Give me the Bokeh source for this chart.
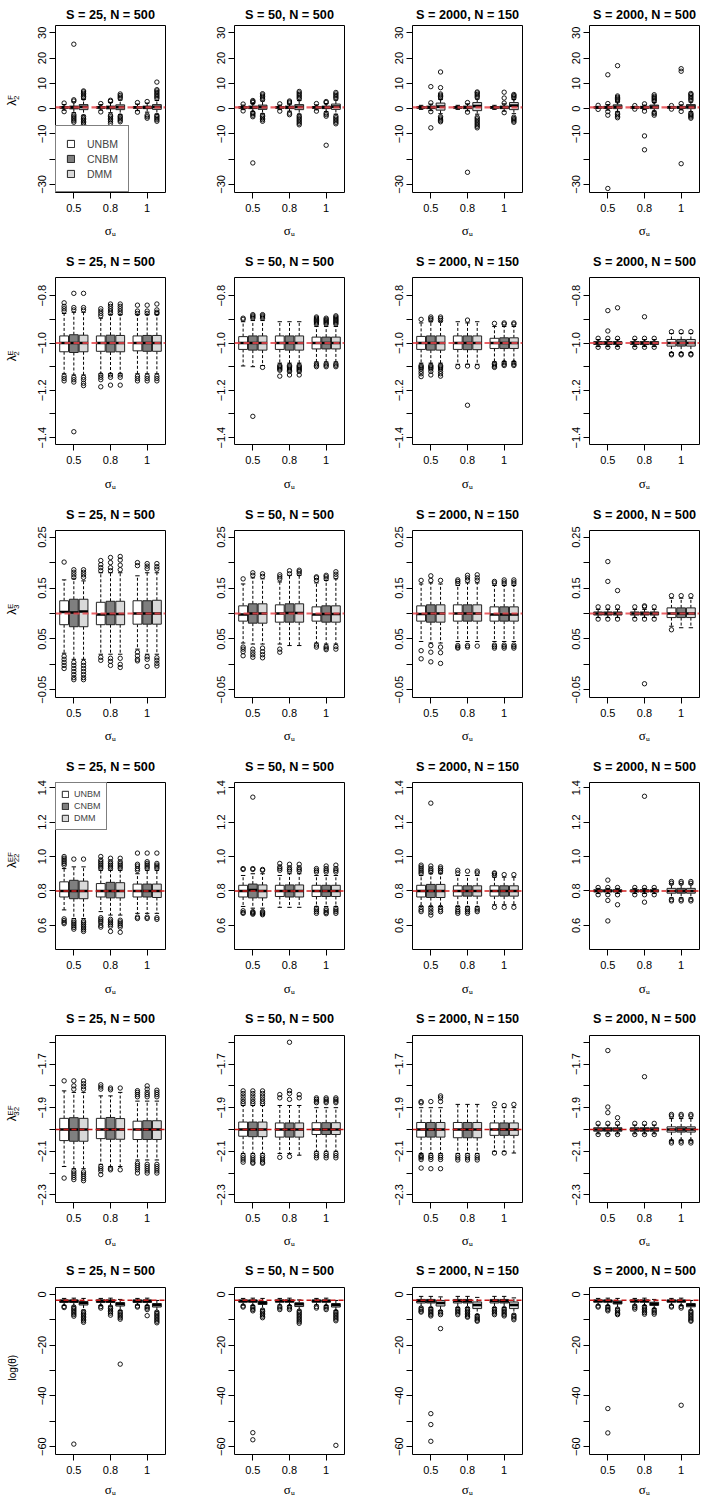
import math
from bokeh.plotting import figure
from bokeh.layouts import gridplot
from bokeh.models import (Span, Legend, LegendItem, FixedTicker, Range1d)
from bokeh.core.properties import value
from bokeh.embed import file_html
from bokeh.resources import INLINE

# ---------------- shared categories ----------------
panel_titles = ["S = 25, N = 500", "S = 50, N = 500", "S = 2000, N = 150", "S = 2000, N = 500"]
sigma_u_labels = ["0.5", "0.8", "1"]
method_names = ["UNBM", "CNBM", "DMM"]
method_fills = ["#ffffff", "#7f7f7f", "#d9d9d9"]
x_axis_label = "\u03c3\u1d64"

# Box order inside every panel: UNBM, CNBM, DMM at sigma_u 0.5, then 0.8, then 1.
# Each statistic: 4 panels (columns) x 9 boxes.

# ---------------- row 1: lambda_2^F ----------------
lam2F_true = 0.5
lam2F_ylim = (-33.2, 32.9)
lam2F_ticks = [-30, -20, -10, 0, 10, 20, 30]
lam2F_ticklabels = ["\u221230", "", "\u221210", "0", "10", "20", "30"]
lam2F_lo = [[-0.6, -1.6, -2.6, -0.6, -1.6, -2.4, -0.8, -1.4, -2.2],
            [-0.4, -1.2, -2.0, -0.4, -1.0, -2.2, -0.5, -1.2, -2.2],
            [-0.3, -0.8, -2.0, -0.3, -0.9, -2.2, -0.3, -1.0, -2.0],
            [0.1, -0.6, -1.2, 0.1, -0.4, -1.0, 0.1, -0.5, -1.2]]
lam2F_q1 = [[0.2, -0.1, -0.4, 0.2, -0.1, -0.4, 0.2, 0.0, -0.3],
            [0.2, 0.0, -0.3, 0.2, 0.0, -0.4, 0.2, 0.0, -0.3],
            [0.2, 0.0, -0.6, 0.2, 0.0, -0.8, 0.2, 0.0, -0.4],
            [0.35, 0.1, 0.0, 0.35, 0.1, 0.0, 0.35, 0.1, 0.0]]
lam2F_med = [[0.5, 0.5, 0.7, 0.5, 0.5, 0.6, 0.5, 0.5, 0.7],
             [0.5, 0.5, 0.6, 0.5, 0.5, 0.7, 0.5, 0.5, 0.8],
             [0.5, 0.5, 0.8, 0.5, 0.5, 1.0, 0.5, 0.5, 1.2],
             [0.5, 0.5, 0.7, 0.5, 0.5, 0.7, 0.5, 0.5, 0.8]]
lam2F_q3 = [[0.8, 1.0, 1.6, 0.8, 1.0, 1.5, 0.8, 1.0, 1.6],
            [0.8, 1.0, 1.4, 0.8, 1.0, 1.6, 0.8, 1.0, 1.8],
            [0.8, 1.0, 2.2, 0.8, 1.0, 2.4, 0.8, 1.0, 2.4],
            [0.65, 0.9, 1.5, 0.65, 0.9, 1.4, 0.65, 0.9, 1.6]]
lam2F_hi = [[1.6, 2.6, 3.6, 1.6, 2.4, 3.4, 1.8, 2.2, 3.2],
            [1.4, 2.0, 3.0, 1.4, 1.8, 3.2, 1.5, 2.0, 3.4],
            [1.3, 1.8, 3.6, 1.3, 1.9, 3.8, 1.3, 1.9, 3.6],
            [0.9, 1.6, 2.6, 0.9, 1.4, 2.4, 0.9, 1.5, 2.6]]
lam2F_out = [
    [[-1.2, 2.2],
     [-5.4, -4.8, -4.2, -3.6, -3.0, -2.4, 3.0, 3.5, 25.5],
     [-6.2, -5.6, -5.0, -4.4, -3.8, -3.2, 4.2, 4.8, 5.4, 6.0, 6.6, 7.0],
     [-1.3, 2.0],
     [-5.8, -5.0, -4.4, -3.8, -3.2, -2.6, 2.9, 3.3],
     [-5.2, -4.6, -4.0, -3.4, -2.9, 4.0, 4.6, 5.2, 5.8, -29.5],
     [-1.4, 2.4],
     [-3.8, -3.2, -2.6, 2.8],
     [-5.0, -4.4, -3.8, -3.2, -2.7, 4.0, 4.6, 5.2, 5.8, 6.4, 7.0, 7.5, 10.5]],
    [[-0.9, 1.8],
     [-3.2, -2.6, -2.0, -1.6, 2.4, 2.8, 3.2, -21.5],
     [-5.0, -4.4, -3.8, -3.2, -2.6, 3.6, 4.2, 4.8, 5.4, 5.9],
     [-1.0, 1.9],
     [-2.4, -1.8, 2.2, 2.6, 3.0],
     [-6.4, -5.8, -5.2, -4.6, -4.0, -3.4, -2.8, 3.8, 4.4, 5.0, 5.6, 6.2, 6.8],
     [-1.0, 2.0],
     [-3.0, -2.4, -1.8, 2.4, 2.8, -14.5],
     [-6.0, -5.4, -4.8, -4.2, -3.6, -3.0, 4.0, 4.6, 5.2, 5.8, 6.4]],
    [[],
     [-1.2, 2.3, 8.7, -7.6],
     [-5.2, -4.7, -4.2, -3.7, -3.2, 4.2, 4.8, 5.3, 5.8, 8.3, 14.5],
     [],
     [-1.4, 2.4, -25.2],
     [-7.6, -7.0, -6.4, -5.8, -5.2, -4.6, -4.0, -3.4, 4.4, 5.0, 5.6, 6.2, 6.6],
     [],
     [-1.6, 2.2, 4.2, 6.5],
     [-5.4, -4.9, -4.4, -3.9, -3.4, 4.2, 4.7, 5.2, 5.6]],
    [[-0.3, 1.3],
     [-2.6, -1.2, 2.0, 13.4, -31.6],
     [-3.6, -3.0, -2.4, -1.8, 3.0, 3.5, 4.0, 4.5, 5.0, 17.0],
     [-0.2, 1.2],
     [-1.0, 1.9, -10.8, -16.3],
     [-2.6, -2.0, -1.5, 2.9, 3.4, 3.9, 4.4, 4.9, 5.5],
     [-0.2, 1.2],
     [-1.1, 2.0, 14.8, 15.8, -21.8],
     [-3.8, -3.3, -2.8, -2.3, -1.8, 3.2, 3.8, 4.4, 5.0, 5.6, 6.0]]]

# ---------------- row 2: lambda_2^E ----------------
lam2E_true = -1.0
lam2E_ylim = (-1.429, -0.723)
lam2E_ticks = [-1.4, -1.3, -1.2, -1.1, -1.0, -0.9, -0.8]
lam2E_ticklabels = ["\u22121.4", "", "\u22121.2", "", "\u22121.0", "", "\u22120.8"]
lam2E_lo = [[-1.13, -1.135, -1.135, -1.13, -1.13, -1.13, -1.13, -1.13, -1.13],
            [-1.097, -1.1, -1.095, -1.085, -1.085, -1.085, -1.08, -1.08, -1.08],
            [-1.085, -1.085, -1.085, -1.09, -1.09, -1.09, -1.08, -1.078, -1.078],
            [-1.015, -1.015, -1.015, -1.015, -1.015, -1.015, -1.04, -1.04, -1.04]]
lam2E_q1 = [[-1.037, -1.04, -1.037, -1.035, -1.038, -1.037, -1.033, -1.035, -1.035],
            [-1.027, -1.03, -1.03, -1.027, -1.03, -1.03, -1.025, -1.025, -1.025],
            [-1.027, -1.03, -1.03, -1.027, -1.028, -1.028, -1.023, -1.023, -1.023],
            [-1.006, -1.006, -1.006, -1.006, -1.006, -1.006, -1.013, -1.013, -1.013]]
lam2E_med = [[-1.0, -1.0, -1.0, -1.0, -1.0, -1.0, -1.0, -1.0, -1.0],
             [-1.0, -1.0, -1.0, -1.0, -1.0, -1.0, -1.0, -1.0, -1.0],
             [-1.0, -1.0, -1.0, -1.0, -1.0, -1.0, -1.0, -1.0, -1.0],
             [-1.0, -1.0, -1.0, -1.0, -1.0, -1.0, -1.0, -1.0, -1.0]]
lam2E_q3 = [[-0.97, -0.965, -0.967, -0.97, -0.967, -0.968, -0.97, -0.968, -0.968],
            [-0.973, -0.97, -0.97, -0.97, -0.97, -0.97, -0.975, -0.975, -0.975],
            [-0.972, -0.97, -0.97, -0.97, -0.97, -0.97, -0.98, -0.978, -0.978],
            [-0.994, -0.994, -0.994, -0.994, -0.994, -0.994, -0.985, -0.985, -0.985]]
lam2E_hi = [[-0.875, -0.87, -0.87, -0.895, -0.88, -0.88, -0.88, -0.88, -0.88],
            [-0.91, -0.905, -0.905, -0.91, -0.91, -0.91, -0.93, -0.93, -0.93],
            [-0.915, -0.91, -0.91, -0.91, -0.915, -0.91, -0.93, -0.93, -0.93],
            [-0.985, -0.985, -0.985, -0.985, -0.985, -0.985, -0.96, -0.96, -0.96]]
lam2E_out = [
    [[-0.83, -0.845, -0.855, -0.865, -1.14, -1.15, -1.16],
     [-0.79, -0.85, -0.86, -1.145, -1.155, -1.165, -1.375],
     [-0.79, -0.85, -0.86, -1.145, -1.155, -1.17, -1.18],
     [-0.855, -0.865, -0.875, -0.885, -1.135, -1.145, -1.155, -1.185],
     [-0.835, -0.845, -0.855, -0.865, -0.875, -1.135, -1.145, -1.178],
     [-0.835, -0.845, -0.855, -0.865, -0.875, -1.135, -1.145, -1.178],
     [-0.84, -0.865, -0.875, -1.14, -1.15, -1.16],
     [-0.84, -0.865, -0.875, -1.14, -1.15, -1.16],
     [-0.835, -0.86, -0.87, -0.875, -1.14, -1.15, -1.16]],
    [[-0.895, -0.9],
     [-0.88, -0.885, -0.89, -0.895, -1.31],
     [-0.88, -0.885, -0.89, -0.895, -1.103],
     [-1.095, -1.1, -1.105, -1.11, -1.115, -1.14],
     [-1.095, -1.1, -1.105, -1.11, -1.115, -1.12, -1.135],
     [-1.095, -1.1, -1.105, -1.11, -1.115, -1.12, -1.135],
     [-0.89, -0.895, -0.9, -0.905, -0.91, -0.915, -0.92, -1.088, -1.094, -1.1],
     [-0.895, -0.9, -0.905, -0.91, -0.915, -0.92, -1.088, -1.094, -1.1],
     [-0.885, -0.89, -0.895, -0.9, -0.905, -0.91, -0.915, -0.92, -1.088, -1.094, -1.1]],
    [[-0.9, -1.095, -1.1, -1.105, -1.11, -1.12, -1.13, -1.142],
     [-0.89, -0.897, -0.903, -1.095, -1.1, -1.105, -1.11, -1.12, -1.135],
     [-0.89, -0.897, -0.905, -1.095, -1.1, -1.105, -1.11, -1.12, -1.13, -1.14],
     [-1.1],
     [-0.903, -1.097, -1.263],
     [-1.1],
     [-0.917, -1.086, -1.092, -1.098, -1.103],
     [-0.915, -0.92, -1.083, -1.09, -1.095],
     [-0.915, -0.92, -1.083, -1.09, -1.095]],
    [[-0.98, -1.018],
     [-0.863, -0.949, -0.98, -1.018],
     [-0.851, -0.98, -1.018],
     [-0.98, -1.018],
     [-0.889, -0.98, -1.018],
     [-0.98, -1.018],
     [-0.952, -1.046, -1.05],
     [-0.952, -1.046, -1.05],
     [-0.952, -1.046, -1.05]]]

# ---------------- row 3: lambda_3^E ----------------
lam3E_true = 0.10
lam3E_ylim = (-0.065, 0.263)
lam3E_ticks = [-0.05, 0.0, 0.05, 0.1, 0.15, 0.2, 0.25]
lam3E_ticklabels = ["\u22120.05", "", "0.05", "", "0.15", "", "0.25"]
lam3E_lo = [[0.022, 0.01, 0.01, 0.02, 0.02, 0.02, 0.03, 0.02, 0.02],
            [0.042, 0.04, 0.04, 0.04, 0.037, 0.037, 0.042, 0.04, 0.04],
            [0.045, 0.042, 0.042, 0.045, 0.045, 0.045, 0.045, 0.045, 0.045],
            [0.092, 0.092, 0.092, 0.092, 0.092, 0.092, 0.075, 0.072, 0.072]]
lam3E_q1 = [[0.078, 0.074, 0.074, 0.078, 0.078, 0.078, 0.079, 0.079, 0.079],
            [0.085, 0.081, 0.081, 0.083, 0.083, 0.083, 0.085, 0.083, 0.083],
            [0.085, 0.083, 0.083, 0.085, 0.085, 0.085, 0.085, 0.085, 0.085],
            [0.097, 0.097, 0.097, 0.097, 0.097, 0.097, 0.092, 0.092, 0.092]]
lam3E_med = [[0.103, 0.102, 0.104, 0.098, 0.099, 0.099, 0.1, 0.1, 0.1],
             [0.098, 0.1, 0.1, 0.1, 0.101, 0.101, 0.098, 0.099, 0.099],
             [0.099, 0.1, 0.1, 0.1, 0.1, 0.1, 0.098, 0.098, 0.098],
             [0.1, 0.1, 0.1, 0.1, 0.1, 0.1, 0.1, 0.1, 0.1]]
lam3E_q3 = [[0.125, 0.128, 0.128, 0.122, 0.124, 0.124, 0.125, 0.125, 0.126],
            [0.115, 0.119, 0.119, 0.117, 0.119, 0.119, 0.113, 0.115, 0.115],
            [0.115, 0.117, 0.117, 0.117, 0.117, 0.117, 0.113, 0.113, 0.113],
            [0.103, 0.103, 0.103, 0.103, 0.103, 0.103, 0.111, 0.111, 0.111]]
lam3E_hi = [[0.166, 0.168, 0.164, 0.18, 0.18, 0.18, 0.174, 0.18, 0.18],
            [0.158, 0.17, 0.168, 0.162, 0.175, 0.175, 0.16, 0.165, 0.168],
            [0.158, 0.16, 0.158, 0.155, 0.16, 0.16, 0.155, 0.155, 0.155],
            [0.108, 0.108, 0.108, 0.108, 0.108, 0.108, 0.13, 0.13, 0.13]]
lam3E_out = [
    [[0.201, 0.016, 0.01, 0.004, -0.002, -0.008],
     [0.171, 0.176, 0.181, 0.186, 0.004, -0.002, -0.008, -0.014, -0.02, -0.026, -0.03],
     [0.171, 0.176, 0.181, 0.186, 0.004, -0.002, -0.008, -0.014, -0.02, -0.026, -0.03],
     [0.184, 0.19, 0.196, 0.204, 0.014, 0.008],
     [0.184, 0.19, 0.2, 0.21, 0.012, 0.006, -0.002],
     [0.186, 0.195, 0.205, 0.212, 0.012, 0.0, -0.006],
     [0.194, 0.2, 0.024, 0.017, 0.01, 0.007],
     [0.188, 0.193, 0.198, 0.015, 0.01, -0.004],
     [0.187, 0.192, 0.198, 0.013, 0.008, 0.002, -0.003]],
    [[0.168, 0.034, 0.03, 0.025, 0.017],
     [0.175, 0.18, 0.03, 0.024, 0.019, 0.014],
     [0.173, 0.178, 0.032, 0.025, 0.019, 0.013],
     [0.168, 0.172, 0.176, 0.03, 0.024],
     [0.178, 0.184],
     [0.178, 0.182, 0.185],
     [0.165, 0.17, 0.172, 0.038, 0.034],
     [0.168, 0.172, 0.175, 0.035, 0.032, 0.029],
     [0.172, 0.177, 0.182, 0.035, 0.03]],
    [[0.165, 0.027, 0.011],
     [0.165, 0.174, 0.037, 0.024, 0.005],
     [0.165, 0.034, 0.023, 0.002],
     [0.159, 0.163, 0.166, 0.037, 0.034, 0.032],
     [0.165, 0.17, 0.175, 0.037, 0.034],
     [0.165, 0.17, 0.176, 0.036],
     [0.16, 0.163, 0.038, 0.035, 0.032],
     [0.158, 0.162, 0.166, 0.038, 0.035, 0.032],
     [0.158, 0.162, 0.166, 0.038, 0.035, 0.032]],
    [[0.113, 0.089],
     [0.113, 0.089, 0.163, 0.202],
     [0.113, 0.089, 0.145],
     [0.113, 0.089],
     [0.115, 0.113, 0.089, -0.038],
     [0.113, 0.089],
     [0.135, 0.068],
     [0.135],
     [0.135]]]

# ---------------- row 4: lambda_22^EF ----------------
lam22EF_true = 0.8
lam22EF_ylim = (0.46, 1.43)
lam22EF_ticks = [0.6, 0.8, 1.0, 1.2, 1.4]
lam22EF_ticklabels = ["0.6", "0.8", "1.0", "1.2", "1.4"]
lam22EF_lo = [[0.69, 0.64, 0.64, 0.68, 0.66, 0.66, 0.67, 0.67, 0.67],
              [0.71, 0.7, 0.7, 0.705, 0.705, 0.705, 0.71, 0.71, 0.71],
              [0.71, 0.71, 0.71, 0.71, 0.71, 0.71, 0.72, 0.72, 0.72],
              [0.785, 0.785, 0.785, 0.785, 0.785, 0.785, 0.76, 0.76, 0.76]]
lam22EF_q1 = [[0.765, 0.755, 0.755, 0.765, 0.76, 0.76, 0.765, 0.765, 0.762],
              [0.765, 0.76, 0.76, 0.768, 0.765, 0.765, 0.768, 0.768, 0.768],
              [0.765, 0.762, 0.762, 0.77, 0.77, 0.77, 0.77, 0.77, 0.77],
              [0.795, 0.795, 0.795, 0.795, 0.795, 0.795, 0.787, 0.787, 0.787]]
lam22EF_med = [[0.8, 0.8, 0.8, 0.8, 0.8, 0.8, 0.8, 0.8, 0.8],
               [0.8, 0.805, 0.8, 0.8, 0.8, 0.8, 0.8, 0.8, 0.8],
               [0.8, 0.8, 0.8, 0.8, 0.8, 0.8, 0.8, 0.8, 0.8],
               [0.8, 0.8, 0.8, 0.8, 0.8, 0.8, 0.8, 0.8, 0.8]]
lam22EF_q3 = [[0.853, 0.862, 0.857, 0.843, 0.85, 0.848, 0.84, 0.84, 0.84],
              [0.833, 0.84, 0.835, 0.833, 0.835, 0.835, 0.833, 0.833, 0.833],
              [0.833, 0.838, 0.838, 0.83, 0.83, 0.83, 0.83, 0.83, 0.83],
              [0.807, 0.807, 0.807, 0.807, 0.807, 0.807, 0.815, 0.815, 0.815]]
lam22EF_hi = [[0.93, 0.94, 0.94, 0.92, 0.92, 0.92, 0.9, 0.92, 0.92],
              [0.89, 0.9, 0.9, 0.89, 0.9, 0.9, 0.89, 0.89, 0.89],
              [0.89, 0.9, 0.9, 0.89, 0.89, 0.89, 0.88, 0.88, 0.88],
              [0.815, 0.815, 0.815, 0.815, 0.815, 0.815, 0.84, 0.84, 0.84]]
lam22EF_out = [
    [[0.95, 0.96, 0.97, 0.98, 0.99, 1.0, 0.638, 0.628, 0.618, 0.61],
     [0.985, 1.27, 0.628, 0.618, 0.608, 0.598, 0.588, 0.578],
     [0.985, 0.625, 0.615, 0.605, 0.595, 0.585, 0.575, 0.565],
     [0.93, 0.94, 0.95, 0.96, 0.97, 0.98, 1.0, 0.645, 0.635, 0.625, 0.615, 0.6, 0.59],
     [0.93, 0.94, 0.95, 0.96, 0.97, 0.99, 0.635, 0.625, 0.615, 0.605, 0.595, 0.565],
     [0.93, 0.94, 0.95, 0.96, 0.97, 0.99, 0.63, 0.62, 0.61, 0.6, 0.59, 0.56],
     [0.92, 0.93, 0.945, 0.955, 1.02, 0.648, 0.64],
     [0.93, 0.94, 0.95, 0.96, 0.97, 1.02, 0.648, 0.64],
     [0.93, 0.94, 0.95, 0.96, 1.02, 0.645, 0.635]],
    [[0.925, 0.93, 0.685, 0.675, 0.67],
     [0.925, 0.93, 1.345, 0.68, 0.675, 0.67, 0.665],
     [0.92, 0.925, 0.68, 0.674, 0.668, 0.662],
     [0.92, 0.93, 0.94, 0.96],
     [0.915, 0.925, 0.935, 0.955],
     [0.915, 0.925, 0.935, 0.955],
     [0.91, 0.92, 0.93, 0.7, 0.69, 0.68, 0.67],
     [0.91, 0.92, 0.93, 0.945, 0.695, 0.685, 0.675, 0.668],
     [0.91, 0.92, 0.93, 0.95, 0.7, 0.69, 0.68, 0.67]],
    [[0.9, 0.91, 0.92, 0.93, 0.94, 0.95, 0.705, 0.69, 0.68],
     [0.91, 0.92, 0.93, 0.945, 1.31, 0.705, 0.69, 0.675, 0.66],
     [0.91, 0.92, 0.93, 0.94, 0.705, 0.69, 0.68],
     [0.905, 0.92, 0.705, 0.69, 0.68, 0.67],
     [0.915, 0.7, 0.69, 0.68, 0.67],
     [0.905, 0.915, 0.7, 0.69, 0.68],
     [0.89, 0.9, 0.905, 0.705],
     [0.895, 0.705],
     [0.895, 0.705]],
    [[0.82, 0.778],
     [0.82, 0.863, 0.778, 0.745, 0.626],
     [0.82, 0.778, 0.72],
     [0.82, 0.778],
     [0.82, 0.778, 0.735, 1.35],
     [0.82, 0.778],
     [0.845, 0.855, 0.75, 0.742],
     [0.845, 0.855, 0.75, 0.742],
     [0.845, 0.855, 0.75, 0.742]]]

# ---------------- row 5: lambda_32^EF ----------------
lam32EF_true = -2.0
lam32EF_ylim = (-2.335, -1.569)
lam32EF_ticks = [-2.3, -2.2, -2.1, -2.0, -1.9, -1.8, -1.7, -1.6]
lam32EF_ticklabels = ["\u22122.3", "", "\u22122.1", "", "\u22121.9", "", "\u22121.7", ""]
lam32EF_lo = [[-2.17, -2.18, -2.18, -2.16, -2.17, -2.17, -2.14, -2.14, -2.14],
              [-2.11, -2.11, -2.11, -2.11, -2.11, -2.118, -2.1, -2.1, -2.1],
              [-2.11, -2.11, -2.11, -2.11, -2.11, -2.11, -2.1, -2.1, -2.108],
              [-2.02, -2.02, -2.02, -2.02, -2.02, -2.02, -2.05, -2.05, -2.05]]
lam32EF_q1 = [[-2.051, -2.054, -2.054, -2.042, -2.045, -2.045, -2.046, -2.046, -2.046],
              [-2.031, -2.033, -2.033, -2.035, -2.035, -2.035, -2.023, -2.023, -2.023],
              [-2.035, -2.035, -2.035, -2.038, -2.038, -2.038, -2.027, -2.027, -2.027],
              [-2.008, -2.008, -2.008, -2.008, -2.008, -2.008, -2.012, -2.012, -2.012]]
lam32EF_med = [[-2.0, -2.0, -2.0, -2.0, -2.0, -2.0, -2.0, -2.0, -2.0],
               [-2.0, -2.0, -2.0, -2.0, -2.0, -2.0, -2.0, -2.0, -2.0],
               [-2.0, -2.0, -2.0, -2.0, -2.0, -2.0, -2.0, -2.0, -2.0],
               [-2.0, -2.0, -2.0, -2.0, -2.0, -2.0, -2.0, -2.0, -2.0]]
lam32EF_q3 = [[-1.949, -1.946, -1.949, -1.949, -1.945, -1.95, -1.962, -1.96, -1.96],
              [-1.966, -1.966, -1.966, -1.97, -1.97, -1.97, -1.969, -1.969, -1.969],
              [-1.968, -1.968, -1.968, -1.968, -1.968, -1.968, -1.97, -1.97, -1.97],
              [-1.992, -1.992, -1.992, -1.992, -1.992, -1.992, -1.988, -1.988, -1.988]]
lam32EF_hi = [[-1.823, -1.83, -1.83, -1.846, -1.846, -1.83, -1.87, -1.87, -1.87],
              [-1.89, -1.89, -1.89, -1.89, -1.89, -1.89, -1.9, -1.9, -1.9],
              [-1.9, -1.9, -1.9, -1.885, -1.885, -1.885, -1.9, -1.9, -1.9],
              [-1.98, -1.98, -1.98, -1.98, -1.98, -1.98, -1.95, -1.95, -1.95]]
lam32EF_out = [
    [[-1.777, -2.223],
     [-1.777, -1.8, -1.815, -2.19, -2.2, -2.21, -2.22, -2.23],
     [-1.777, -1.79, -1.803, -1.815, -2.195, -2.205, -2.215, -2.225, -2.235],
     [-1.795, -1.805, -1.815, -2.17, -2.18, -2.19, -2.207],
     [-1.81, -1.818, -2.178, -2.185],
     [-1.81, -2.185],
     [-1.822, -1.83, -1.84, -1.85, -2.155, -2.165, -2.175, -2.185, -2.2],
     [-1.8, -1.815, -1.83, -1.84, -1.85, -2.16, -2.17, -2.18, -2.19, -2.2],
     [-1.82, -1.83, -1.84, -1.85, -2.16, -2.17, -2.18, -2.19, -2.2]],
    [[-1.823, -1.835, -1.847, -1.86, -1.872, -1.882, -2.12, -2.13, -2.14, -2.15],
     [-1.823, -1.835, -1.847, -1.86, -1.872, -1.882, -2.12, -2.13, -2.14, -2.15, -2.155],
     [-1.823, -1.835, -1.847, -1.86, -1.872, -1.882, -2.12, -2.13, -2.14, -2.15, -2.155],
     [-1.84, -1.855, -2.128],
     [-1.6, -1.822, -1.835, -1.862, -2.124],
     [-1.84, -1.855],
     [-1.855, -1.862, -1.87, -1.877, -2.11, -2.12, -2.13],
     [-1.855, -1.862, -1.87, -1.877, -2.11, -2.12, -2.13],
     [-1.855, -1.862, -1.87, -1.877, -2.11, -2.12, -2.13]],
    [[-1.872, -1.878, -2.118, -2.124, -2.13, -2.138, -2.177],
     [-1.872, -2.12, -2.128, -2.138, -2.18],
     [-1.846, -1.855, -1.872, -2.12, -2.128, -2.138, -2.18],
     [-2.12, -2.13, -2.14],
     [-2.12, -2.13, -2.14],
     [-2.12, -2.13, -2.14],
     [-1.882, -2.108],
     [-1.89, -2.108],
     [-1.885]],
    [[-1.972, -2.023],
     [-1.638, -1.897, -1.923, -1.972, -2.023],
     [-1.946, -1.972, -2.023],
     [-1.972, -2.023],
     [-1.758, -1.972, -2.023],
     [-1.972, -2.023],
     [-1.931, -1.938, -2.054, -2.062],
     [-1.931, -1.938, -2.054, -2.062],
     [-1.931, -1.938, -2.054, -2.062]]]

# ---------------- row 6: log(theta) ----------------
logtheta_true = -2.3
logtheta_ylim = (-63.1, 2.7)
logtheta_ticks = [-60, -50, -40, -30, -20, -10, 0]
logtheta_ticklabels = ["\u221260", "", "\u221240", "", "\u221220", "", "0"]
logtheta_lo = [[-4.4, -4.6, -6.2, -4.4, -4.6, -6.4, -4.2, -4.4, -6.6],
               [-4.2, -4.4, -5.8, -4.2, -4.4, -6.2, -4.2, -4.4, -6.4],
               [-5.0, -5.2, -6.4, -5.2, -5.2, -8.0, -5.2, -5.2, -7.8],
               [-4.2, -4.4, -5.4, -4.2, -4.4, -5.6, -4.2, -4.4, -6.2]]
logtheta_q1 = [[-3.2, -3.2, -4.2, -3.2, -3.2, -4.6, -3.2, -3.2, -5.0],
               [-3.1, -3.1, -4.0, -3.1, -3.1, -4.8, -3.1, -3.1, -5.0],
               [-3.4, -3.4, -4.6, -3.4, -3.4, -5.6, -3.4, -3.4, -5.6],
               [-3.1, -3.1, -3.8, -3.1, -3.1, -4.4, -3.1, -3.1, -4.9]]
logtheta_med = [[-2.6, -2.6, -3.4, -2.6, -2.6, -3.8, -2.6, -2.6, -4.2],
                [-2.6, -2.6, -3.3, -2.6, -2.6, -3.9, -2.6, -2.6, -4.2],
                [-2.6, -2.6, -3.4, -2.6, -2.6, -4.2, -2.6, -2.6, -4.2],
                [-2.6, -2.6, -3.2, -2.6, -2.6, -3.7, -2.6, -2.6, -4.2]]
logtheta_q3 = [[-2.2, -2.2, -2.8, -2.2, -2.2, -3.2, -2.2, -2.2, -3.6],
               [-2.2, -2.2, -2.8, -2.2, -2.2, -3.3, -2.2, -2.2, -3.6],
               [-2.0, -2.0, -2.4, -2.0, -2.0, -3.0, -2.0, -2.0, -3.0],
               [-2.2, -2.2, -2.6, -2.2, -2.2, -3.1, -2.2, -2.2, -3.6]]
logtheta_hi = [[-1.6, -1.5, -1.6, -1.6, -1.5, -2.0, -1.6, -1.5, -2.4],
               [-1.6, -1.5, -1.6, -1.6, -1.5, -2.2, -1.6, -1.5, -2.4],
               [-0.8, -0.8, -1.0, -0.8, -0.8, -1.2, -0.8, -0.8, -1.4],
               [-1.6, -1.5, -1.6, -1.6, -1.5, -2.0, -1.6, -1.5, -2.4]]
logtheta_out = [
    [[-4.8, -5.2],
     [-5.0, -5.6, -6.2, -6.8, -7.4, -8.0, -8.6, -59.0],
     [-6.8, -7.4, -8.0, -8.6, -9.2, -9.8, -10.4, -11.0],
     [-4.8, -5.4],
     [-5.0, -5.6, -6.2, -6.8, -7.4, -8.2],
     [-6.8, -7.4, -8.0, -8.6, -9.2, -9.8, -27.5],
     [-4.6, -5.0],
     [-4.8, -5.4, -6.0, -8.4],
     [-7.0, -7.6, -8.2, -8.8, -9.4, -10.0, -10.6, -11.2]],
    [[-4.6, -5.0],
     [-4.8, -5.4, -6.0, -6.5, -54.5, -57.3],
     [-6.2, -6.8, -7.4, -8.0, -8.6, -9.2],
     [-4.8, -5.4, -6.0],
     [-4.8, -5.4, -6.0],
     [-6.6, -7.2, -7.8, -8.4, -9.0, -9.6, -10.2, -10.8, -11.4],
     [-4.8, -5.4],
     [-4.8, -5.4, -6.0],
     [-6.8, -7.4, -8.0, -8.6, -9.2, -9.8, -10.4, -59.5]],
    [[-5.4, -6.0, -6.6, -7.0],
     [-5.6, -6.2, -6.8, -7.4, -8.0, -8.5, -47.0, -51.3, -57.9],
     [-6.8, -7.4, -8.0, -13.5],
     [-5.6, -6.2, -6.8, -7.4, -8.0],
     [-5.6, -6.2, -6.8, -7.4, -8.0, -8.6, -9.0],
     [-8.4, -9.0, -9.6, -10.2, -10.6],
     [-5.6, -6.2, -6.8, -7.4, -8.0],
     [-5.6, -6.2, -6.8, -7.4, -8.0, -8.5],
     [-8.2, -8.8, -9.4, -10.0]],
    [[-4.6, -5.0],
     [-4.8, -5.4, -6.0, -6.5, -45.0, -54.6],
     [-5.8, -6.4, -7.0, -7.6, -8.0],
     [-4.6, -5.2, -5.8],
     [-4.8, -5.4, -6.0, -6.6, -7.2, -7.8],
     [-6.0, -6.6, -7.2, -7.8],
     [-4.6, -5.0],
     [-4.8, -5.4, -43.7],
     [-6.6, -7.2, -7.8, -8.4, -9.0, -9.6, -10.2, -10.6]]]

ROWS = [
    dict(lo=lam2F_lo, q1=lam2F_q1, med=lam2F_med, q3=lam2F_q3, hi=lam2F_hi, out=lam2F_out,
         ylim=lam2F_ylim, ticks=lam2F_ticks, ticklabels=lam2F_ticklabels, truth=lam2F_true,
         ylab=("\u03bb", "2", "F")),
    dict(lo=lam2E_lo, q1=lam2E_q1, med=lam2E_med, q3=lam2E_q3, hi=lam2E_hi, out=lam2E_out,
         ylim=lam2E_ylim, ticks=lam2E_ticks, ticklabels=lam2E_ticklabels, truth=lam2E_true,
         ylab=("\u03bb", "2", "E")),
    dict(lo=lam3E_lo, q1=lam3E_q1, med=lam3E_med, q3=lam3E_q3, hi=lam3E_hi, out=lam3E_out,
         ylim=lam3E_ylim, ticks=lam3E_ticks, ticklabels=lam3E_ticklabels, truth=lam3E_true,
         ylab=("\u03bb", "3", "E")),
    dict(lo=lam22EF_lo, q1=lam22EF_q1, med=lam22EF_med, q3=lam22EF_q3, hi=lam22EF_hi, out=lam22EF_out,
         ylim=lam22EF_ylim, ticks=lam22EF_ticks, ticklabels=lam22EF_ticklabels, truth=lam22EF_true,
         ylab=("\u03bb", "22", "EF")),
    dict(lo=lam32EF_lo, q1=lam32EF_q1, med=lam32EF_med, q3=lam32EF_q3, hi=lam32EF_hi, out=lam32EF_out,
         ylim=lam32EF_ylim, ticks=lam32EF_ticks, ticklabels=lam32EF_ticklabels, truth=lam32EF_true,
         ylab=("\u03bb", "32", "EF")),
    dict(lo=logtheta_lo, q1=logtheta_q1, med=logtheta_med, q3=logtheta_q3, hi=logtheta_hi, out=logtheta_out,
         ylim=logtheta_ylim, ticks=logtheta_ticks, ticklabels=logtheta_ticklabels, truth=logtheta_true,
         ylab=("log(\u03b8)", "", "")),
]

# ---------------- layout / style ----------------
LAB_W = 22                                  # narrow strip holding the y-axis label of column 1
COL_W = [156, 178, 178, 174]
COL_BL = [33, 56, 56, 55]
FRAME_W, FRAME_H = 110, 167
ROW_H = [241, 253, 252, 253, 252, 249]
ROW_BT = [25, 36, 36, 36, 36, 36]
TITLE_STANDOFF = [8, 18, 18, 18, 19, 19]
XLAB_STANDOFF = [8, 9, 8, 9, 8, 5]
GROUP_POS = [1, 2, 3]
METHOD_OFF = [-0.265, 0.0, 0.265]
BOX_HALF = 0.12
STAPLE_HALF = 0.06
TRUE_STYLE = [("#e8474c", 0.85, 2.2, "6 3"), ("#e8474c", 0.85, 2.2, "6 3"), ("#e8474c", 0.85, 2.2, "6 3"),
              ("#d42020", 1.0, 1.4, "5 3"), ("#c81818", 1.0, 1.4, "5 3"), ("#c81818", 1.0, 1.4, "5 3")]
LEGENDS = {
    (0, 0): dict(location="bottom_left", glyph=9, font="10.5px", label_h=15, pad=10, standoff=12),
    (3, 0): dict(location="top_left", glyph=8, font="9px", label_h=12, pad=5, standoff=5),
}
FONT = "Liberation Sans"


def make_label_strip(r):
    """Narrow figure carrying the composite y-axis label (lambda with sub/superscript)."""
    h = ROW_H[r]
    bb = h - ROW_BT[r] - FRAME_H
    q = figure(width=LAB_W, height=h, x_range=Range1d(0, LAB_W), y_range=Range1d(0, h),
               output_backend="svg", toolbar_location=None,
               x_axis_location=None, y_axis_location=None,
               min_border_left=0, min_border_right=0, min_border_top=0, min_border_bottom=0)
    q.title.visible = False
    q.outline_line_color = None
    q.xgrid.visible = False
    q.ygrid.visible = False
    q.background_fill_color = "white"
    q.border_fill_color = "white"
    ymid = bb + FRAME_H / 2.0
    base, sub, sup = ROWS[r]["ylab"]
    if sub == "":
        q.text(x=[11.5], y=[ymid], text=[base], angle=math.pi / 2, text_align="center",
               text_baseline="middle", text_font=value(FONT), text_font_size=value("10px"),
               text_color="black")
    else:
        shift = 2.5 * (len(sub) - 1)
        q.text(x=[11.5], y=[ymid - 3 - shift], text=[base], angle=math.pi / 2, text_align="center",
               text_baseline="middle", text_font=value(FONT), text_font_size=value("12px"),
               text_color="black")
        q.text(x=[15.5], y=[ymid + 1 - shift], text=[sub], angle=math.pi / 2, text_align="left",
               text_baseline="middle", text_font=value(FONT), text_font_size=value("8px"),
               text_color="black")
        q.text(x=[10.0], y=[ymid + 1 - shift], text=[sup], angle=math.pi / 2, text_align="left",
               text_baseline="middle", text_font=value(FONT), text_font_size=value("8px"),
               text_color="black")
    return q


def make_panel(r, c):
    R = ROWS[r]
    lo, q1, med, q3, hi, out = (R[k][c] for k in ("lo", "q1", "med", "q3", "hi", "out"))
    y0, y1 = R["ylim"]
    w, h = COL_W[c], ROW_H[r]
    bl, bt = COL_BL[c], ROW_BT[r]
    p = figure(width=w, height=h, x_range=Range1d(0.5, 3.5), y_range=Range1d(y0, y1),
               output_backend="svg", toolbar_location=None,
               min_border_left=bl, min_border_right=w - bl - FRAME_W,
               min_border_top=bt, min_border_bottom=h - bt - FRAME_H)
    p.background_fill_color = "white"
    p.border_fill_color = "white"
    p.outline_line_color = "black"
    p.outline_line_width = 1
    p.outline_line_alpha = 1.0
    p.xgrid.visible = False
    p.ygrid.visible = False

    # title
    p.title.text = panel_titles[c]
    p.title.align = "center"
    p.title.text_font = FONT
    p.title.text_font_style = "bold"
    p.title.text_font_size = "12.7px"
    p.title.text_color = "black"
    p.title.standoff = TITLE_STANDOFF[r]

    xc = [g + off for g in GROUP_POS for off in METHOD_OFF]
    fills = [method_fills[i % 3] for i in range(9)]
    left = [x - BOX_HALF for x in xc]
    right = [x + BOX_HALF for x in xc]

    # whiskers (dashed)
    p.segment(x0=xc, x1=xc, y0=q3, y1=hi, line_color="black", line_width=1, line_dash="3 2")
    p.segment(x0=xc, x1=xc, y0=q1, y1=lo, line_color="black", line_width=1, line_dash="3 2")
    # staples
    p.segment(x0=[x - STAPLE_HALF for x in xc], x1=[x + STAPLE_HALF for x in xc], y0=hi, y1=hi,
              line_color="black", line_width=1)
    p.segment(x0=[x - STAPLE_HALF for x in xc], x1=[x + STAPLE_HALF for x in xc], y0=lo, y1=lo,
              line_color="black", line_width=1)
    # boxes
    box_r = p.quad(left=left, right=right, bottom=q1, top=q3, fill_color=fills,
                   line_color="#222222", line_width=1)
    # medians
    p.segment(x0=left, x1=right, y0=med, y1=med, line_color="black", line_width=2.6)
    # outliers
    ox, oy = [], []
    for i, vals in enumerate(out):
        for v in vals:
            ox.append(xc[i])
            oy.append(v)
    p.scatter(x=ox, y=oy, marker="circle", size=4.4, fill_color=None, line_color="black", line_width=0.9)

    # true value line
    col, alpha, lw, dash = TRUE_STYLE[r]
    p.add_layout(Span(location=R["truth"], dimension="width", line_color=col, line_alpha=alpha,
                      line_width=lw, line_dash=dash))

    # axes
    for ax in (p.xaxis[0], p.yaxis[0]):
        ax.axis_line_color = None
        ax.major_tick_line_color = "black"
        ax.major_tick_in = 0
        ax.major_tick_out = 6
        ax.minor_tick_line_color = None
        ax.major_label_text_font = FONT
        ax.major_label_text_font_size = "11px"
        ax.major_label_text_color = "black"
    xa = p.xaxis[0]
    xa.ticker = FixedTicker(ticks=GROUP_POS)
    xa.major_label_overrides = dict(zip(GROUP_POS, sigma_u_labels))
    xa.major_label_standoff = 5
    xa.axis_label = x_axis_label
    xa.axis_label_text_font = "Liberation Serif"
    xa.axis_label_text_font_style = "normal"
    xa.axis_label_text_font_size = "13px"
    xa.axis_label_text_color = "black"
    xa.axis_label_standoff = XLAB_STANDOFF[r]
    ya = p.yaxis[0]
    ya.ticker = FixedTicker(ticks=R["ticks"])
    ya.major_label_overrides = dict(zip(R["ticks"], R["ticklabels"]))
    ya.major_label_standoff = 3
    ya.major_label_orientation = "vertical"

    # legend (drawn beneath the data, as in the original where points overprint it)
    if (r, c) in LEGENDS:
        cfg = LEGENDS[(r, c)]
        items = [LegendItem(label=name, renderers=[box_r], index=k) for k, name in enumerate(method_names)]
        leg = Legend(items=items, location=cfg["location"], margin=0, padding=cfg["pad"],
                     spacing=0, glyph_width=cfg["glyph"], glyph_height=cfg["glyph"],
                     label_height=cfg["label_h"], label_standoff=cfg["standoff"],
                     label_text_font=FONT, label_text_font_size=cfg["font"],
                     border_line_color="black", border_line_width=1,
                     background_fill_color="white", background_fill_alpha=1.0)
        leg.level = "underlay"
        p.add_layout(leg)
    return p


grid = [[make_label_strip(r)] + [make_panel(r, c) for c in range(4)] for r in range(6)]
layout = gridplot(grid, toolbar_location=None)

open("out.html", "w").write(file_html(layout, INLINE))
